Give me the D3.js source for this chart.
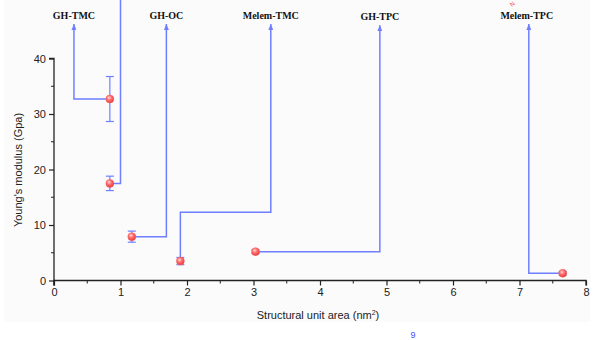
<!DOCTYPE html>
<html><head><meta charset="utf-8">
<script src="https://cdn.jsdelivr.net/npm/d3@7"></script>
<style>body{margin:0;background:#fff}svg{display:block}</style>
</head><body>
<svg id="c" width="602" height="340"></svg>
<script>
// ---- data ----
const areas   = [0.84, 0.84, 1.17, 1.90, 3.03, 7.65];
const modulus = [32.7, 17.5, 7.9, 3.5, 5.2, 1.3];
const errors  = [4.05, 1.3, 1.0, 0.65, 0.3, 0.3];
const labels  = ["GH-TMC", "GH-OC", "Melem-TMC", "GH-TPC", "Melem-TPC"];
const labelAt = [0.30, 1.69, 3.26, 4.90, 7.14];
const connectors = [
  [[0.30, 46.2], [0.30, 32.7], [0.84, 32.7]],
  [[1.00, 51.0], [1.00, 17.5], [0.84, 17.5]],
  [[1.69, 46.2], [1.69, 7.9], [1.17, 7.9]],
  [[3.26, 46.2], [3.26, 12.3], [1.90, 12.3], [1.90, 4.2]],
  [[4.90, 46.0], [4.90, 5.2], [3.03, 5.2]],
  [[7.14, 46.2], [7.14, 1.3], [7.65, 1.3]]
];
const arrowed = [true, false, true, true, true, true];
const xTicks = [0,1,2,3,4,5,6,7,8];
const yTicks = [0,10,20,30,40];

const svg = d3.select("#c");
const blue = "#6f7fff";
const x = d3.scaleLinear().domain([0, 8]).range([54, 586]);
const y = d3.scaleLinear().domain([0, 40]).range([280.5, 58.5]);

// background panel
svg.append("rect").attr("x", 4).attr("y", 0).attr("width", 586).attr("height", 322).attr("fill", "#fbfbfb");

const defs = svg.append("defs");
defs.append("marker").attr("id", "arr").attr("viewBox", "0 0 6 8")
  .attr("refX", 3).attr("refY", 0).attr("markerWidth", 5).attr("markerHeight", 7)
  .attr("orient", "0").attr("markerUnits", "userSpaceOnUse")
  .append("path").attr("d", "M0,7 L3,0 L6,7 Z").attr("fill", blue);
const grad = defs.append("radialGradient").attr("id", "ball").attr("cx", "40%").attr("cy", "35%").attr("r", "65%");
grad.append("stop").attr("offset", "0%").attr("stop-color", "#ffd8d8");
grad.append("stop").attr("offset", "45%").attr("stop-color", "#ff7070");
grad.append("stop").attr("offset", "100%").attr("stop-color", "#e83a3a");

// axes
const fontSans = "'Liberation Sans', Arial, sans-serif";
const xAxis = d3.axisBottom(x).tickValues(xTicks).tickSize(5).tickPadding(3).tickFormat(d3.format("d"));
const gx = svg.append("g").attr("transform", `translate(0,${y(0)})`).call(xAxis);
gx.append("g").selectAll("line").data(d3.range(0.5, 8, 1)).join("line")
  .attr("x1", d => x(d)).attr("x2", d => x(d)).attr("y1", 0).attr("y2", 3).attr("stroke", "#222");
const yAxis = d3.axisLeft(y).tickValues(yTicks).tickSize(5).tickPadding(3).tickFormat(d3.format("d"));
const gy = svg.append("g").attr("transform", `translate(${x(0)},0)`).call(yAxis);
gy.append("g").selectAll("line").data([5,15,25,35]).join("line")
  .attr("y1", d => y(d)).attr("y2", d => y(d)).attr("x1", 0).attr("x2", -3).attr("stroke", "#222");
[gx, gy].forEach(g => {
  g.select(".domain").attr("stroke", "#222").attr("stroke-width", 1.3);
  g.selectAll(".tick line").attr("stroke", "#222").attr("stroke-width", 1.2);
  g.selectAll("text").attr("font-family", fontSans).attr("font-size", 11).attr("fill", "#222");
});
gx.select(".domain").attr("d", `M${x(0)},5V0H${x(8)}V5`);
gy.select(".domain").attr("d", `M0,${y(0)+5}V${y(40)}H-5`);

svg.append("text").attr("transform", `translate(22,170) rotate(-90)`)
  .attr("text-anchor", "middle").attr("font-family", fontSans).attr("font-size", 11).attr("fill", "#222")
  .text("Young's modulus (Gpa)");
const xt = svg.append("text").attr("x", 318).attr("y", 319).attr("text-anchor", "middle")
  .attr("font-family", fontSans).attr("font-size", 11).attr("fill", "#222");
xt.append("tspan").text("Structural unit area (nm");
xt.append("tspan").attr("dy", -4).attr("font-size", 7).text("2");
xt.append("tspan").attr("dy", 4).text(")");

// connectors
const line = d3.line().x(d => x(d[0])).y(d => y(d[1]));
svg.append("g").selectAll("path").data(connectors).join("path")
  .attr("d", line).attr("fill", "none").attr("stroke", blue).attr("stroke-width", 1.5)
  .attr("marker-start", (d, i) => arrowed[i] ? "url(#arr)" : null);

// labels
svg.append("g").selectAll("text").data(labels).join("text")
  .attr("x", (d, i) => x(labelAt[i]) - (i === 4 ? 2 : 0))
  .attr("y", (d, i) => i === 3 ? 20 : 19)
  .attr("text-anchor", "middle").attr("font-family", "'Liberation Serif', 'Times New Roman', serif")
  .attr("font-weight", "bold").attr("font-size", 10).attr("fill", "#111").text(d => d);

// error bars
const eb = svg.append("g").attr("stroke", blue).attr("stroke-width", 1.2);
areas.forEach((a, i) => {
  const cx = x(a), lo = y(modulus[i] - errors[i]), hi = y(modulus[i] + errors[i]);
  eb.append("line").attr("x1", cx).attr("x2", cx).attr("y1", lo).attr("y2", hi);
  eb.append("line").attr("x1", cx - 4).attr("x2", cx + 4).attr("y1", lo).attr("y2", lo);
  eb.append("line").attr("x1", cx - 4).attr("x2", cx + 4).attr("y1", hi).attr("y2", hi);
});

// points
svg.append("g").selectAll("circle").data(areas).join("circle")
  .attr("cx", d => x(d)).attr("cy", (d, i) => y(modulus[i])).attr("r", 4)
  .attr("fill", "url(#ball)").attr("stroke", "#f06060").attr("stroke-width", 0.5);

// cropped fragments at the edges
svg.append("text").attr("x", 512).attr("y", 7).attr("transform", "rotate(-40,512,7)")
  .attr("font-family", fontSans).attr("font-size", 6).attr("fill", "#f05050").text("N");
svg.append("text").attr("x", 413).attr("y", 338).attr("text-anchor", "middle")
  .attr("font-family", fontSans).attr("font-size", 9).attr("fill", "#4050ff").text("9");
</script>
</body></html>
